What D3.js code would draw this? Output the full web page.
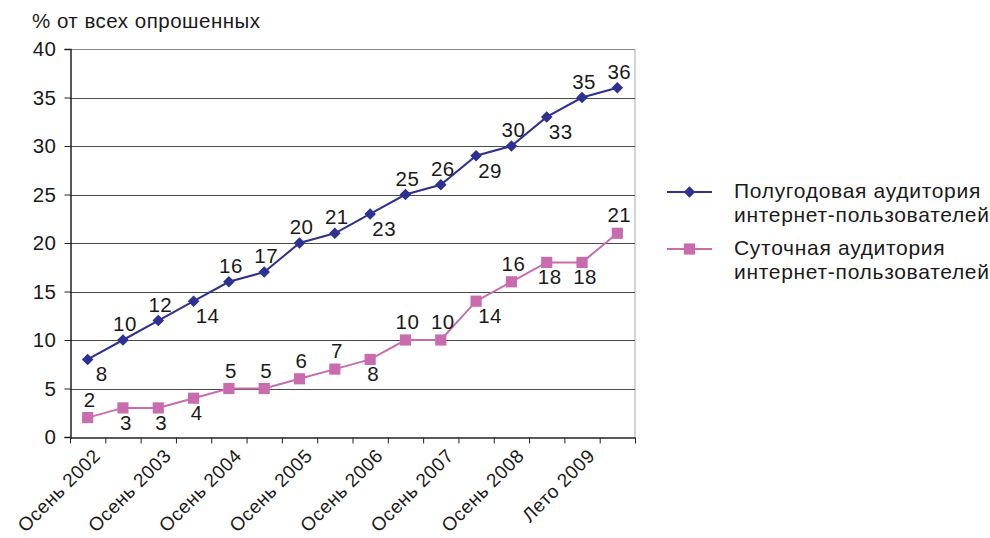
<!DOCTYPE html>
<html>
<head>
<meta charset="utf-8">
<script src="https://cdn.jsdelivr.net/npm/d3@7"></script>
<style>
  html, body { margin: 0; padding: 0; background: #fff; }
  svg { display: block; font-family: "Liberation Sans", Arial, Helvetica, sans-serif; }
  svg text { letter-spacing: 0.5px; }
  svg text.legend-text { letter-spacing: 0.7px; }
</style>
</head>
<body>
<svg id="chart" width="990" height="538"></svg>
<script>
// Share of respondents (%), one point per survey wave
const halfYearAudience = [8, 10, 12, 14, 16, 17, 20, 21, 23, 25, 26, 29, 30, 33, 35, 36];
const dailyAudience    = [2, 3, 3, 4, 5, 5, 6, 7, 8, 10, 10, 14, 16, 18, 18, 21];
// Labels printed on every second wave
const tickLabels = ["Осень 2002", "Осень 2003", "Осень 2004", "Осень 2005",
                    "Осень 2006", "Осень 2007", "Осень 2008", "Лето 2009"];
const yTicks = [0, 5, 10, 15, 20, 25, 30, 35, 40];
const seriesNames = [
  ["Полугодовая аудитория", "интернет-пользователей"],
  ["Суточная аудитория", "интернет-пользователей"]
];
// Where each value label sits relative to its marker: a = above, b = below, r = below-right
const halfYearPlace = ["r","a","a","r","a","a","a","a","r","a","a","r","a","r","a","a"];
const dailyPlace    = ["a","b","b","b","a","a","a","a","b","a","a","r","a","b","b","a"];

const BLUE = "#2e3192";
const PINK = "#c96cae";
const FS = 20.5;

const svg = d3.select("#chart");
const m = { left: 70, right: 355, top: 49, bottom: 101 };
const W = 990, H = 538;
const x0 = m.left, x1 = W - m.right, y0 = H - m.bottom, y1 = m.top;
const n = halfYearAudience.length;

const xEdge = d3.scaleLinear().domain([0, n]).range([x0, x1]);
const xPos = i => xEdge(i + 0.5);
const y = d3.scaleLinear().domain([0, 40]).range([y0, y1]);

// Plot frame (light) and horizontal gridlines
svg.append("line").attr("x1", x1).attr("x2", x1).attr("y1", y1).attr("y2", y0)
  .attr("stroke", "#aaa").attr("stroke-width", 1);
svg.append("g").selectAll("line").data(yTicks.filter(v => v > 0)).join("line")
  .attr("x1", x0).attr("x2", x1)
  .attr("y1", d => Math.round(y(d)) + 0.5).attr("y2", d => Math.round(y(d)) + 0.5)
  .attr("stroke", d => d === 40 ? "#8a8a8a" : "#4a4a4a").attr("stroke-width", 1);

// Y axis
const yAxis = svg.append("g").attr("transform", `translate(${x0 + 0.5},0)`)
  .call(d3.axisLeft(y).tickValues(yTicks).tickSize(6).tickPadding(8));
yAxis.select(".domain").attr("stroke", "#222").attr("stroke-width", 1.5);
yAxis.selectAll(".tick line").attr("stroke", "#222");
yAxis.selectAll("text").attr("font-size", FS).attr("fill", "#1a1a1a")
  .attr("font-family", "Liberation Sans, Arial, sans-serif");

// X axis: ticks between categories
const xAxis = svg.append("g").attr("transform", `translate(0,${Math.round(y0) + 0.5})`)
  .call(d3.axisBottom(xEdge).tickValues(d3.range(n + 1)).tickFormat("").tickSize(6).tickSizeOuter(0));
xAxis.select(".domain").attr("stroke", "#222").attr("stroke-width", 1.5);
xAxis.selectAll(".tick line").attr("stroke", "#222");

svg.append("g").selectAll("text").data(tickLabels).join("text")
  .attr("transform", (d, i) => `translate(${xPos(i * 2) + 14},${y0 + 20}) rotate(-45)`)
  .attr("text-anchor", "end")
  .attr("font-size", 19).attr("fill", "#1a1a1a")
  .text(d => d);

// Axis title
svg.append("text").attr("x", 32).attr("y", 28)
  .attr("font-size", FS).attr("fill", "#1a1a1a")
  .text("% от всех опрошенных");

// Series
const line = d3.line().x((d, i) => xPos(i)).y(d => y(d));
const diamond = d3.symbol().type(d3.symbolDiamond2).size(85);
const square = d3.symbol().type(d3.symbolSquare).size(125);

function drawSeries(values, color, sym, place, gap) {
  const g = svg.append("g");
  g.append("path").datum(values).attr("d", line)
    .attr("fill", "none").attr("stroke", color).attr("stroke-width", 2);
  g.selectAll("path.mk").data(values).join("path").attr("class", "mk")
    .attr("d", sym)
    .attr("transform", (d, i) => `translate(${xPos(i)},${y(d)})`)
    .attr("fill", color);
  g.selectAll("text").data(values).join("text")
    .attr("x", (d, i) => xPos(i) + (place[i] === "r" ? 14 : place[i] === "b" ? 3 : 2))
    .attr("y", (d, i) => y(d) + (place[i] === "a" ? -gap : 22))
    .attr("text-anchor", "middle")
    .attr("font-size", FS).attr("fill", "#1a1a1a")
    .text(d => d);
}
drawSeries(halfYearAudience, BLUE, diamond, halfYearPlace, 9);
drawSeries(dailyAudience, PINK, square, dailyPlace, 11);

// Legend
const legend = svg.append("g");
const legendRows = [
  { color: BLUE, sym: diamond, y: 192, names: seriesNames[0] },
  { color: PINK, sym: square, y: 249, names: seriesNames[1] }
];
legendRows.forEach(r => {
  legend.append("line").attr("x1", 667).attr("x2", 712).attr("y1", r.y).attr("y2", r.y)
    .attr("stroke", r.color).attr("stroke-width", 2);
  legend.append("path").attr("d", r.sym).attr("transform", `translate(689.5,${r.y})`).attr("fill", r.color);
  r.names.forEach((t, k) => {
    legend.append("text").attr("class", "legend-text")
      .attr("x", 734).attr("y", r.y + 6 + k * 24)
      .attr("font-size", 21).attr("fill", "#1a1a1a").text(t);
  });
});
</script>
</body>
</html>
